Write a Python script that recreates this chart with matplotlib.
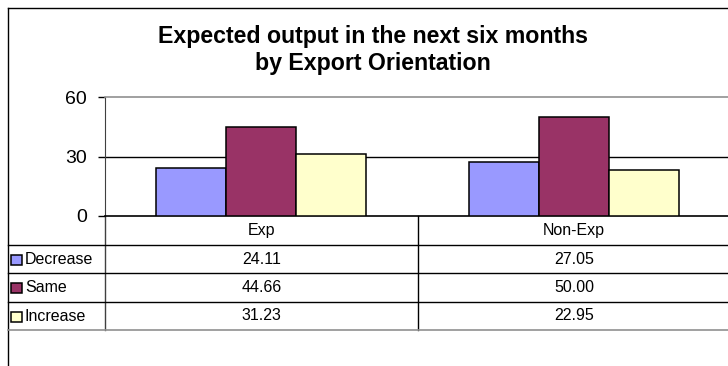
import matplotlib
matplotlib.use("Agg")
import matplotlib.pyplot as plt
from matplotlib.patches import Rectangle

plt.rcParams['font.family'] = ['Liberation Sans', 'DejaVu Sans']

# chart data
categories = ['Exp', 'Non-Exp']
series_names = ['Decrease', 'Same', 'Increase']
decrease = [24.11, 27.05]
same = [44.66, 50.00]
increase = [31.23, 22.95]
colors = ['#9999FF', '#993366', '#FFFFCC']
y_ticks = [0, 30, 60]
title_lines = ['Expected output in the next six months', 'by Export Orientation']

W, H = 728, 366
fig = plt.figure(figsize=(W / 100, H / 100), dpi=100)

def fx(px):
    return px / W

def fy(py):
    return 1 - py / H

# background layer in pixel coordinates for borders and the data table
bg = fig.add_axes([0, 0, 1, 1])
bg.set_xlim(0, W)
bg.set_ylim(H, 0)
bg.axis('off')

# outer chart border (left and top visible)
bg.plot([8, 8], [8, H], color='black', lw=1)
bg.plot([8, W], [8, 8], color='black', lw=1)

# bar plot area
left, top, right, bottom = 105, 97, 730, 216
ax = fig.add_axes([fx(left), fy(bottom), fx(right - left), (bottom - top) / H])
x = [0, 1]
w = 0.224
for i, (vals, col) in enumerate(zip([decrease, same, increase], colors)):
    ax.bar([xi + (i - 1) * w for xi in x], vals, width=w, color=col,
           edgecolor='black', linewidth=1.1, zorder=3)

ax.set_xlim(-0.5, 1.5)
ax.set_ylim(0, 60)
ax.set_yticks(y_ticks)
ax.set_yticklabels([str(t) for t in y_ticks], fontsize=14)
ax.set_xticks([])
ax.tick_params(axis='y', length=5, width=1, pad=8, color='black')
ax.axhline(30, color='black', lw=1, zorder=1)
ax.spines['right'].set_visible(False)
ax.spines['top'].set_color('#909090')
ax.spines['top'].set_linewidth(1.2)
ax.spines['left'].set_color('#404040')
ax.spines['bottom'].set_color('black')
ax.spines['bottom'].set_linewidth(1.2)
ax.patch.set_alpha(0)

for line, base in zip(title_lines, [43, 70]):
    fig.text(fx(373), fy(base), line, ha='center', va='baseline',
             fontsize=16.7, fontweight='bold')

# data table below the bars
row_lines = [245, 273, 302]
col_left = 105
col_mid = 418
bg.plot([col_left, col_left], [bottom, 330], color='#404040', lw=1)
bg.plot([col_mid, col_mid], [bottom, 330], color='black', lw=1)
for yl in row_lines:
    bg.plot([8, W], [yl, yl], color='black', lw=1)
bg.plot([8, W], [330, 330], color='#909090', lw=1.2)

col_centers = [261.5, 574]
for cx, cat in zip(col_centers, categories):
    bg.text(cx, 231, cat, ha='center', va='center', fontsize=11.5)

row_centers = [259, 287.5, 316]
for ry, name, vals, col in zip(row_centers, series_names,
                               [decrease, same, increase], colors):
    bg.add_patch(Rectangle((11, ry - 4.5), 11, 10, facecolor=col,
                           edgecolor='black', lw=1.1))
    bg.text(25, ry + 0.5, name, ha='left', va='center', fontsize=11.5)
    for cx, v in zip(col_centers, vals):
        bg.text(cx, ry, f'{v:.2f}', ha='center', va='center', fontsize=11.5)

fig.savefig('out.png', dpi=100)
